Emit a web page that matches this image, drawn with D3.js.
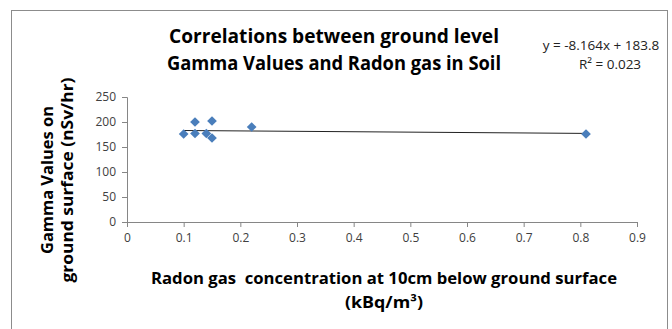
<!DOCTYPE html>
<html>
<head>
<meta charset="utf-8">
<script src="https://cdn.jsdelivr.net/npm/d3@7"></script>
<style>
  body { margin: 0; background: #fff; }
  svg text { font-family: "Open Sans", "Liberation Sans", sans-serif; }
</style>
</head>
<body>
<div id="chart"></div>
<script>
// radon (kBq/m3) vs gamma (nSv/hr)
const radon = [0.10, 0.12, 0.12, 0.14, 0.15, 0.15, 0.22, 0.81];
const gamma = [176, 200, 177, 177, 202, 168, 190, 176];
const xTicks = [0, 0.1, 0.2, 0.3, 0.4, 0.5, 0.6, 0.7, 0.8, 0.9];
const yTicks = [0, 50, 100, 150, 200, 250];
const slope = -8.164, intercept = 183.8;
const titleLines = ['Correlations between ground level', 'Gamma Values and Radon gas in Soil'];
const yTitleLines = ['Gamma Values on', 'ground surface (nSv/hr)'];

const W = 672, H = 329;
const margin = {top: 97, right: 35, bottom: 107, left: 127};
const width = 637 - margin.left, height = 222 - margin.top;

const svg = d3.select('#chart').append('svg')
    .attr('width', W)
    .attr('height', H);

// outer frame
svg.append('rect')
    .attr('x', 11.5).attr('y', 10.5)
    .attr('width', 656).attr('height', 340)
    .attr('fill', '#fff')
    .attr('stroke', '#8c8c8c');

const g = svg.append('g')
    .attr('transform', 'translate(' + margin.left + ',' + margin.top + ')');

const x = d3.scaleLinear().domain([0, 0.9]).range([0, width]);
const y = d3.scaleLinear().domain([0, 250]).range([height, 0]);

// axes
const xAxis = g.append('g')
    .attr('transform', 'translate(0,' + height + ')')
    .call(d3.axisBottom(x).tickValues(xTicks).tickSize(5).tickPadding(6).tickFormat(d3.format('')));
const yAxis = g.append('g')
    .call(d3.axisLeft(y).tickValues(yTicks).tickSize(5).tickPadding(6));

[xAxis, yAxis].forEach(a => {
    a.select('.domain').attr('stroke', '#868686');
    a.selectAll('.tick line').attr('stroke', '#868686');
    a.selectAll('.tick text')
        .attr('fill', '#404040')
        .style('font-size', '12px');
});

// trendline over the data range
const xr = d3.extent(radon);
g.append('line')
    .attr('x1', x(xr[0])).attr('y1', y(slope * xr[0] + intercept))
    .attr('x2', x(xr[1])).attr('y2', y(slope * xr[1] + intercept))
    .attr('stroke', '#222')
    .attr('stroke-width', 1);

// points
const diamond = d3.symbol().type(d3.symbolDiamond2).size(60);
g.selectAll('.pt')
    .data(radon.map((d, i) => [d, gamma[i]]))
    .enter().append('path')
    .attr('class', 'pt')
    .attr('transform', d => 'translate(' + x(d[0]) + ',' + y(d[1]) + ')')
    .attr('d', diamond)
    .attr('fill', '#4a7ebb');

// title
svg.append('text')
    .attr('x', 334).attr('y', 43)
    .attr('text-anchor', 'middle')
    .style('font-size', '19px')
    .style('font-weight', 'bold')
    .selectAll('tspan')
    .data(titleLines)
    .enter().append('tspan')
    .attr('x', 334)
    .attr('dy', (d, i) => i ? 27 : 0)
    .attr('textLength', (d, i) => i ? 334 : 330)
    .attr('lengthAdjust', 'spacingAndGlyphs')
    .text(d => d);

// equation
svg.append('text')
    .attr('x', 601).attr('y', 50)
    .attr('text-anchor', 'middle')
    .style('font-size', '13.5px')
    .attr('fill', '#222')
    .text('y = ' + slope + 'x + ' + intercept);
svg.append('text')
    .attr('x', 610).attr('y', 69)
    .attr('text-anchor', 'middle')
    .style('font-size', '13.5px')
    .attr('fill', '#222')
    .text('R² = 0.023');

// y title
svg.append('text')
    .attr('transform', 'translate(53,180) rotate(-90)')
    .attr('text-anchor', 'middle')
    .style('font-size', '16px')
    .style('font-weight', 'bold')
    .selectAll('tspan')
    .data(yTitleLines)
    .enter().append('tspan')
    .attr('x', 0)
    .attr('dy', (d, i) => i ? 20 : 0)
    .attr('textLength', (d, i) => i ? 205 : 148)
    .attr('lengthAdjust', 'spacingAndGlyphs')
    .text(d => d);

// x title
svg.append('text')
    .attr('x', 384).attr('y', 284)
    .attr('text-anchor', 'middle')
    .style('font-size', '16px')
    .style('font-weight', 'bold')
    .attr('textLength', 466)
    .attr('lengthAdjust', 'spacingAndGlyphs')
    .text('Radon gas\u00a0 concentration at 10cm below ground surface');
svg.append('text')
    .attr('x', 384).attr('y', 308)
    .attr('text-anchor', 'middle')
    .style('font-size', '16px')
    .style('font-weight', 'bold')
    .attr('textLength', 78)
    .attr('lengthAdjust', 'spacingAndGlyphs')
    .text('(kBq/m³)');
</script>
</body>
</html>
